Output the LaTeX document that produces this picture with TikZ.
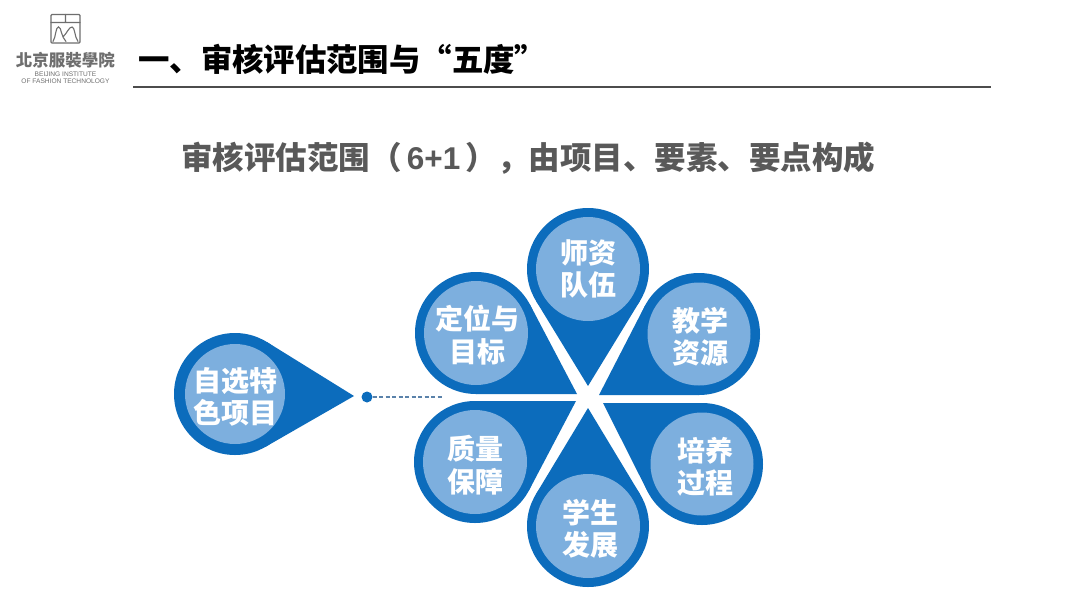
\documentclass[tikz,border=0pt]{standalone}
\usepackage{fontspec}
\setmainfont{Liberation Sans}
\newfontfamily\cjk{Noto Sans CJK SC}
\newfontfamily\cjktc{Noto Sans CJK TC}
\usetikzlibrary{calc}
\definecolor{dropblue}{RGB}{12,108,188}
\definecolor{innerblue}{RGB}{125,175,222}
\definecolor{subgray}{RGB}{89,89,89}
\definecolor{logogray}{RGB}{110,110,110}
\definecolor{dashblue}{RGB}{90,130,170}
\tikzset{
 outerdrop/.style={circle,fill=dropblue,inner sep=0pt,outer sep=0pt,minimum size=122pt},
 innerdrop/.style={circle,fill=innerblue,inner sep=0pt,outer sep=0pt},
 droptext/.style={inner sep=0pt,text=white,align=center,font=\cjk\bfseries\fontsize{28}{32.5}\selectfont},
 logotext/.style={text=logogray,inner sep=0pt,align=center},
}
% name, centre, tip, inner diameter, text offset, label
\newcommand{\petal}[6]{%
  \node[outerdrop] (#1o) at (#2) {};
  \coordinate (#1tip) at (#3);
  \coordinate (#1a) at (tangent cs:node=#1o,point={(#1tip)},solution=1);
  \coordinate (#1b) at (tangent cs:node=#1o,point={(#1tip)},solution=2);
  \fill[dropblue] (#1tip) -- (#1a) -- (#1o.center) -- (#1b) -- cycle;
  \node[innerdrop,minimum size=#4pt] (#1) at (#2) {};
  \node[droptext] (#1t) at ($(#2)+(#5)$) {#6};
}
\begin{document}
\begin{tikzpicture}[x=1pt,y=-1pt]
\useasboundingbox (0,0) rectangle (1080,606);
\fill[white] (0,0) rectangle (1080,606);
% logo
\draw[logogray,line width=1.2pt,rounded corners=1pt] (51,14.5) rectangle (80,43);
\draw[logogray,line width=1.1pt,line cap=round] (51,22.5) -- (80,22.5) (65.5,14.5) -- (65.5,22.5)
  (53,41.5) .. controls (56,37) and (55.5,27) .. (58.5,27) .. controls (61.5,27) and (61,37) .. (66,41.5)
  (63,37) .. controls (67,33) and (69,27) .. (72,27) .. controls (75,27) and (74.5,37) .. (78,41.5);
\node[logotext,font=\cjktc\bfseries\fontsize{16.5}{18}\selectfont] (logoname) at (65.5,60) {北京服裝學院};
\node[logotext,font=\fontsize{6.6}{7}\selectfont] (logoen) at (65.5,78) {BEIJING INSTITUTE\\OF FASHION TECHNOLOGY};
% title
\node[anchor=west,inner sep=0pt,font=\cjk\bfseries\fontsize{31.4}{35}\selectfont] (title) at (138,59) {一、审核评估范围与“五度”};
\coordinate (ruleL) at (133,87);
\coordinate (ruleR) at (991,87);
\draw[line width=1.4pt,black!70] (ruleL) -- (ruleR);
\node[anchor=west,inner sep=0pt,text=subgray,font=\cjk\bfseries\fontsize{31.5}{36}\selectfont] (sub) at (181,158)
  {审核评估范围（\,{\fontspec{Liberation Sans}\bfseries 6+1}\,），由项目、要素、要点构成};
% petals
\petal{teacher}{588,269}{588,386}{104}{0.5,0}{师资\\队伍}
\petal{goal}{476,333}{577,394}{104}{1,2}{定位与\\目标}
\petal{res}{699,334}{599,395}{103}{1,3}{教学\\资源}
\petal{proc}{702,464}{603,403}{103}{3.5,3}{培养\\过程}
\petal{stud}{588,526}{588,408}{104}{2,3}{学生\\发展}
\petal{qual}{475,462}{576,401}{104}{0.5,3}{质量\\保障}
\petal{self}{235,394}{354,396}{100}{0,3}{自选特\\色项目}
% connector
\node[circle,fill=dropblue,inner sep=0pt,minimum size=11pt] (dot) at (367,397) {};
\coordinate (dashend) at (443,397);
\draw[dashblue,line width=1.1pt,dash pattern=on 4pt off 2.5pt] (dot) -- (dashend);
\end{tikzpicture}
\end{document}
